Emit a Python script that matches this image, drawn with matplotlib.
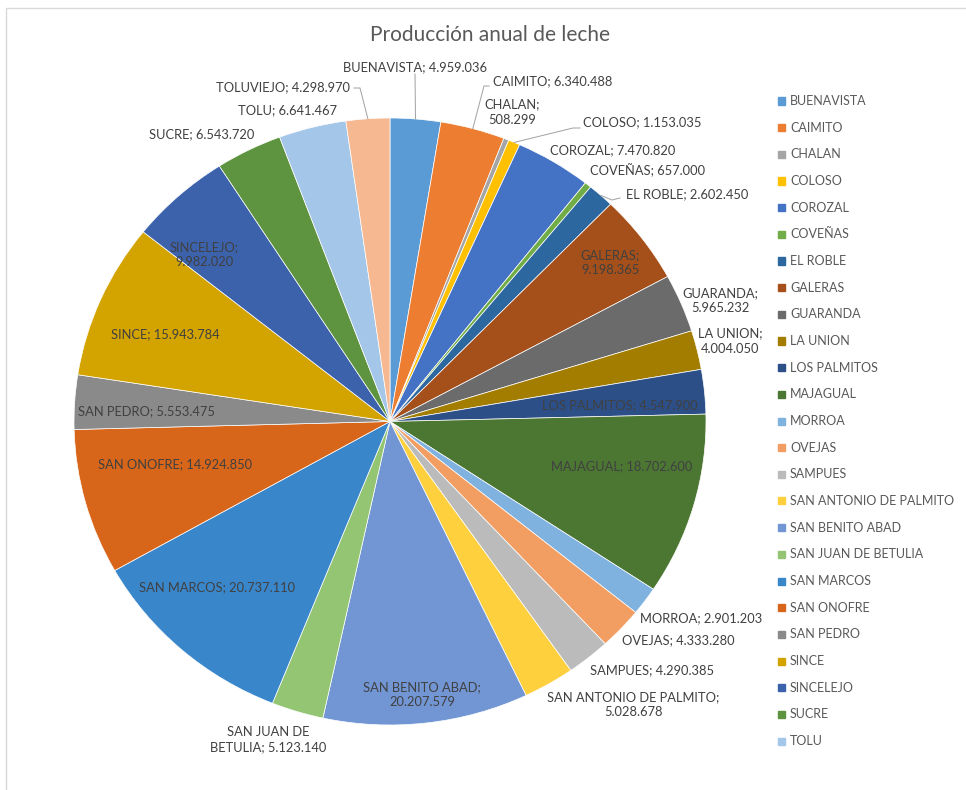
import matplotlib.pyplot as plt
import numpy as np
from matplotlib.lines import Line2D

plt.rcParams['font.family'] = ['Lato', 'DejaVu Sans']

W, H = 966, 790

municipios = [
    'BUENAVISTA', 'CAIMITO', 'CHALAN', 'COLOSO', 'COROZAL', 'COVEÑAS',
    'EL ROBLE', 'GALERAS', 'GUARANDA', 'LA UNION', 'LOS PALMITOS', 'MAJAGUAL',
    'MORROA', 'OVEJAS', 'SAMPUES', 'SAN ANTONIO DE PALMITO', 'SAN BENITO ABAD',
    'SAN JUAN DE BETULIA', 'SAN MARCOS', 'SAN ONOFRE', 'SAN PEDRO', 'SINCE',
    'SINCELEJO', 'SUCRE', 'TOLU', 'TOLUVIEJO',
]
produccion = [
    4959036, 6340488, 508299, 1153035, 7470820, 657000,
    2602450, 9198365, 5965232, 4004050, 4547900, 18702600,
    2901203, 4333280, 4290385, 5028678, 20207579,
    5123140, 20737110, 14924850, 5553475, 15943784,
    9982020, 6543720, 6641467, 4298970,
]
colores = [
    '#5B9BD5', '#ED7D31', '#A5A5A5', '#FFC000', '#4472C4', '#70AD47',
    '#2C67A0', '#A5501A', '#6B6B6B', '#A27D00', '#2C4F88', '#4C7733',
    '#80B2E0', '#F29E62', '#BBBBBB', '#FFD03E', '#7296D4', '#93C572',
    '#3986CA', '#D8661A', '#8A8A8A', '#D3A300', '#3C62AC', '#5E9340',
    '#A4C6E8', '#F5B890',
]

# etiquetas partidas en dos lineas como en el original
saltos = {
    'CHALAN': 'CHALAN;\n{}',
    'GALERAS': 'GALERAS;\n{}',
    'GUARANDA': 'GUARANDA;\n{}',
    'LA UNION': 'LA UNION;\n{}',
    'SAN ANTONIO DE PALMITO': 'SAN ANTONIO DE PALMITO;\n{}',
    'SAN BENITO ABAD': 'SAN BENITO ABAD;\n{}',
    'SAN JUAN DE BETULIA': 'SAN JUAN DE\nBETULIA; {}',
    'SINCELEJO': 'SINCELEJO;\n{}',
}

# centro de cada etiqueta, en pixeles de la imagen (origen arriba a la izquierda)
pos_etiqueta = {
    'BUENAVISTA': (415, 67), 'CAIMITO': (553, 81), 'CHALAN': (512, 112),
    'COLOSO': (642, 122), 'COROZAL': (613, 150), 'COVEÑAS': (648, 170),
    'EL ROBLE': (687, 194), 'GALERAS': (610, 263), 'GUARANDA': (720, 301),
    'LA UNION': (730, 341), 'LOS PALMITOS': (620, 405), 'MAJAGUAL': (622, 466),
    'MORROA': (701, 618), 'OVEJAS': (678, 640), 'SAMPUES': (652, 670),
    'SAN ANTONIO DE PALMITO': (633, 705), 'SAN BENITO ABAD': (422, 695),
    'SAN JUAN DE BETULIA': (268, 740), 'SAN MARCOS': (217, 587),
    'SAN ONOFRE': (175, 464), 'SAN PEDRO': (146, 411), 'SINCE': (165, 334),
    'SINCELEJO': (204, 255), 'SUCRE': (202, 134), 'TOLU': (287, 110),
    'TOLUVIEJO': (283, 87),
}

# lineas guia: puntos intermedios desde el borde del sector hasta la etiqueta
guias = {
    'BUENAVISTA': [(415, 74)],
    'CAIMITO': [(484, 86), (489, 86)],
    'COLOSO': [(573, 128), (580, 128)],
    'EL ROBLE': [(612, 200), (620, 198)],
    'TOLUVIEJO': [(360, 88), (354, 88)],
}


def fmt(v):
    return f'{v:,}'.replace(',', '.')


def etiqueta(nombre, valor):
    plantilla = saltos.get(nombre, nombre + '; {}')
    return plantilla.format(fmt(valor))


fig = plt.figure(figsize=(W / 100, H / 100), dpi=100)

# caja de la torta en pixeles: x 74..706, y 118..725
ax = fig.add_axes([74 / W, 1 - 725 / H, 632 / W, 607 / H])
wedges, _ = ax.pie(produccion, colors=colores, startangle=90, counterclock=False,
                   radius=1, wedgeprops=dict(edgecolor='white', linewidth=0.5))
ax.set_aspect('auto')
ax.set_xlim(-1, 1)
ax.set_ylim(-1, 1)
ax.axis('off')


def px_a_fig(p):
    return (p[0] / W, 1 - p[1] / H)


for w, nombre, valor in zip(wedges, municipios, produccion):
    x, y = px_a_fig(pos_etiqueta[nombre])
    fig.text(x, y, etiqueta(nombre, valor), ha='center', va='center',
             fontsize=9.3, color='#404040', linespacing=1.3)
    if nombre in guias:
        ang = np.deg2rad((w.theta1 + w.theta2) / 2)
        borde = ax.transData.transform((np.cos(ang), np.sin(ang)))
        pts = [fig.transFigure.inverted().transform(borde)]
        pts += [px_a_fig(p) for p in guias[nombre]]
        pts = np.array(pts)
        fig.add_artist(Line2D(pts[:, 0], pts[:, 1], color='#A6A6A6', lw=0.75,
                              transform=fig.transFigure))

fig.text(490 / W, 1 - 35 / H, 'Producción anual de leche', ha='center', va='center',
         fontsize=15, color='#595959')

# leyenda (Excel la corta en TOLU)
paso = (741 - 101) / 24
for i, nombre in enumerate(municipios[:25]):
    yy = 101 + i * paso
    fig.add_artist(plt.Rectangle((778 / W, 1 - (yy + 3.5) / H), 7 / W, 7 / H,
                                 color=colores[i], transform=fig.transFigure))
    fig.text(790 / W, 1 - yy / H, nombre, ha='left', va='center',
             fontsize=9, color='#595959')

# borde del area del grafico
fig.add_artist(Line2D([6 / W, 6 / W, 1], [0, 1 - 8 / H, 1 - 8 / H],
                      color='#D9D9D9', lw=1, transform=fig.transFigure))

fig.savefig('out.png', dpi=100, facecolor='white')
